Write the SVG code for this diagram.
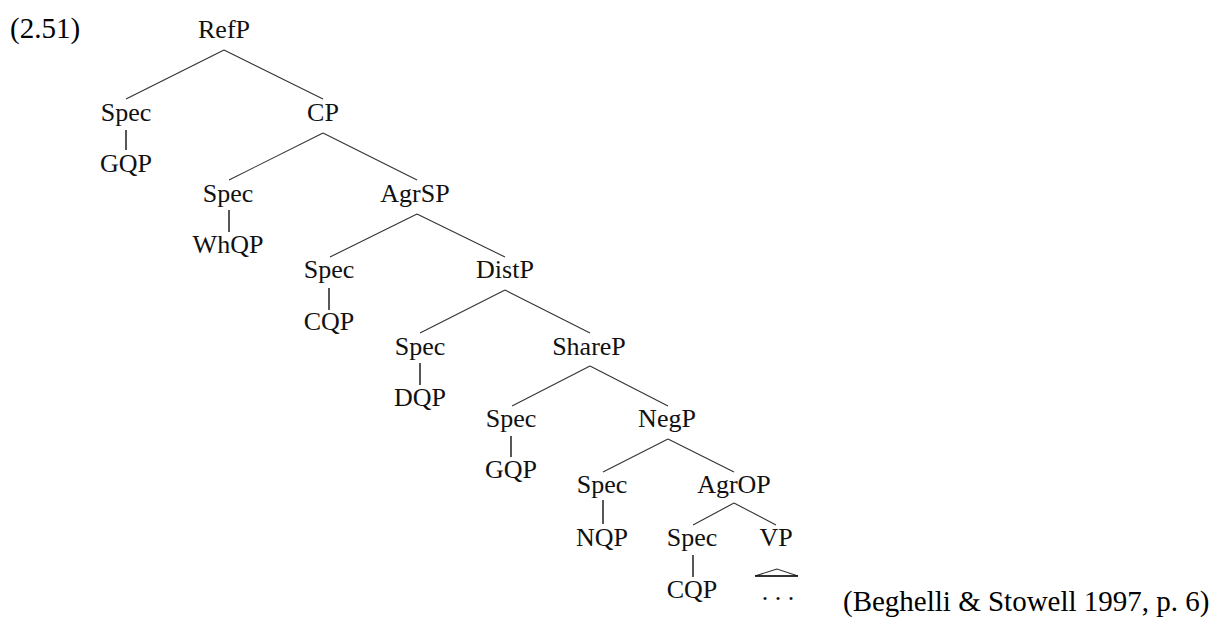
<svg xmlns="http://www.w3.org/2000/svg" width="1225" height="623" viewBox="0 0 1225 623">
<style>
.n{font-family:"Liberation Serif","Times New Roman",serif;font-size:26px;fill:#111;text-anchor:middle}
.t{font-family:"Liberation Serif","Times New Roman",serif;font-size:29px;fill:#000}
.e{stroke:#333;stroke-width:1.1;fill:none}
.v{stroke:#111;stroke-width:1.4;fill:none}
</style>
<rect width="1225" height="623" fill="#fff"/>
<text class="t" x="10" y="38">(2.51)</text>
<g id="connectors">
<line class="e" x1="224" y1="50" x2="126" y2="99"/>
<line class="e" x1="224" y1="50" x2="323" y2="99"/>
<line class="v" x1="126" y1="130" x2="126" y2="150"/>
<line class="e" x1="323" y1="133" x2="229" y2="180"/>
<line class="e" x1="323" y1="133" x2="417" y2="180"/>
<line class="v" x1="229" y1="210" x2="229" y2="232"/>
<line class="e" x1="417" y1="214" x2="330" y2="257"/>
<line class="e" x1="417" y1="214" x2="505" y2="257"/>
<line class="v" x1="329" y1="288" x2="329" y2="310"/>
<line class="e" x1="505" y1="290" x2="420" y2="333"/>
<line class="e" x1="505" y1="290" x2="590" y2="333"/>
<line class="v" x1="420" y1="363" x2="420" y2="385"/>
<line class="e" x1="590" y1="366" x2="512" y2="406"/>
<line class="e" x1="590" y1="366" x2="668" y2="406"/>
<line class="v" x1="511" y1="436" x2="511" y2="457"/>
<line class="e" x1="668" y1="439" x2="603" y2="472"/>
<line class="e" x1="668" y1="439" x2="734" y2="472"/>
<line class="v" x1="603" y1="500" x2="603" y2="524"/>
<line class="e" x1="734" y1="503" x2="693" y2="525"/>
<line class="e" x1="734" y1="503" x2="776" y2="525"/>
<line class="v" x1="693" y1="555" x2="693" y2="577"/>
<polygon class="e" points="777,569 755,576 798,576"/>
<line class="v" x1="755" y1="576" x2="798" y2="576"/>
</g>
<g id="n-refp"><text class="n" x="224" y="38">RefP</text></g>
<g id="n-spec1"><text class="n" x="126" y="121">Spec</text></g>
<g id="n-gqp1"><text class="n" x="126" y="172">GQP</text></g>
<g id="n-cp"><text class="n" x="323" y="121">CP</text></g>
<g id="n-spec2"><text class="n" x="228" y="202">Spec</text></g>
<g id="n-whqp"><text class="n" x="228" y="253">WhQP</text></g>
<g id="n-agrsp"><text class="n" x="415" y="202">AgrSP</text></g>
<g id="n-spec3"><text class="n" x="329" y="278">Spec</text></g>
<g id="n-cqp1"><text class="n" x="329" y="330">CQP</text></g>
<g id="n-distp"><text class="n" x="505" y="278">DistP</text></g>
<g id="n-spec4"><text class="n" x="420" y="355">Spec</text></g>
<g id="n-dqp"><text class="n" x="420" y="406">DQP</text></g>
<g id="n-sharep"><text class="n" x="589" y="355">ShareP</text></g>
<g id="n-spec5"><text class="n" x="511" y="427">Spec</text></g>
<g id="n-gqp2"><text class="n" x="511" y="478">GQP</text></g>
<g id="n-negp"><text class="n" x="667" y="427">NegP</text></g>
<g id="n-spec6"><text class="n" x="602" y="493">Spec</text></g>
<g id="n-nqp"><text class="n" x="602" y="546">NQP</text></g>
<g id="n-agrop"><text class="n" x="734" y="493">AgrOP</text></g>
<g id="n-spec7"><text class="n" x="692" y="546">Spec</text></g>
<g id="n-cqp2"><text class="n" x="692" y="598">CQP</text></g>
<g id="n-vp"><text class="n" x="776" y="546">VP</text></g>
<g id="n-dots"><text class="n" x="778" y="600">. . .</text></g>
<text class="t" x="843" y="611">(Beghelli &amp; Stowell 1997, p. 6)</text>
</svg>
